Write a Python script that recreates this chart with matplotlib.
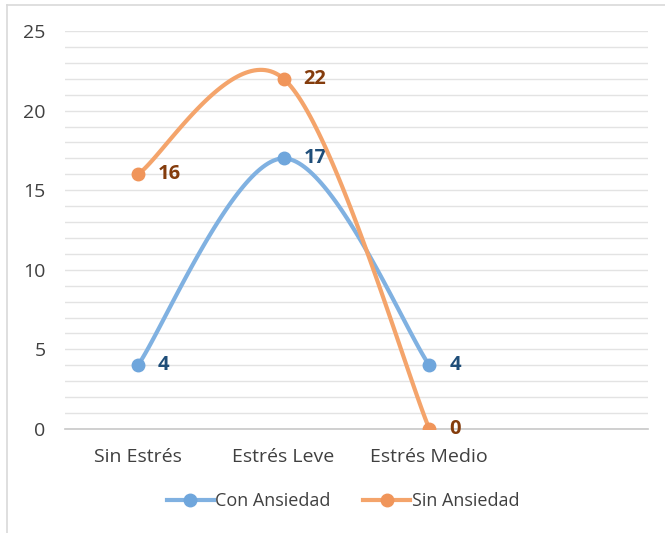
import numpy as np
import matplotlib
matplotlib.use("Agg")
import matplotlib.pyplot as plt
from matplotlib.lines import Line2D

plt.rcParams['font.family'] = ['Open Sans', 'DejaVu Sans']

categories = ["Sin Estrés", "Estrés Leve", "Estrés Medio", ""]
con_ansiedad = [4, 17, 4]
sin_ansiedad = [16, 22, 0]
series_names = ["Con Ansiedad", "Sin Ansiedad"]

BLUE, BLUE_M, BLUE_T = "#80b1e1", "#6fa6dc", "#1f4e79"
ORNG, ORNG_M, ORNG_T = "#f4a46b", "#f0955a", "#843c0c"


def smooth(xs, ys, n=60):
    """Excel-style smoothed line (cubic bezier with 1/6 tangents)."""
    P = np.column_stack([xs, ys]).astype(float)
    out = []
    for i in range(len(P) - 1):
        p0 = P[max(i - 1, 0)]; p1 = P[i]; p2 = P[i + 1]; p3 = P[min(i + 2, len(P) - 1)]
        c1 = p1 + (p2 - p0) / 6.0
        c2 = p2 - (p3 - p1) / 6.0
        t = np.linspace(0, 1, n)[:, None]
        seg = (1 - t)**3 * p1 + 3 * (1 - t)**2 * t * c1 + 3 * (1 - t) * t**2 * c2 + t**3 * p2
        out.append(seg if i == 0 else seg[1:])
    s = np.vstack(out)
    return s[:, 0], s[:, 1]


fig = plt.figure(figsize=(6.65, 5.33), dpi=100)
ax = fig.add_axes([65/665, 1 - 429/533, (648 - 65)/665, (429 - 31)/533])

x = np.arange(len(con_ansiedad))
for vals, lc, mc, tc in [(con_ansiedad, BLUE, BLUE_M, BLUE_T),
                         (sin_ansiedad, ORNG, ORNG_M, ORNG_T)]:
    sx, sy = smooth(x, vals)
    ax.plot(sx, sy, color=lc, lw=3.0, solid_capstyle="round", zorder=3)
    ax.plot(x, vals, "o", color=mc, ms=9, zorder=4)
    for xi, v in zip(x, vals):
        ax.annotate(str(v), (xi, v), xytext=(20, 0), textcoords="offset pixels",
                    ha="left", va="center", fontsize=14.5, fontweight="bold", color=tc)

ax.set_xlim(-0.5, len(categories) - 0.5)
ax.set_ylim(0, 25)
ax.set_yticks(range(0, 26, 5))
ax.set_yticks(range(0, 26, 1), minor=True)
ax.set_xticks(range(len(categories)))
ax.set_xticklabels(categories)
ax.grid(True, which="both", axis="y", color="#e3e3e3", lw=1.0)
ax.set_axisbelow(True)
for s in ["top", "right", "left"]:
    ax.spines[s].set_visible(False)
ax.spines["bottom"].set_color("#c8c8c8")
ax.spines["bottom"].set_linewidth(1.2)
ax.tick_params(axis="both", which="both", length=0, labelsize=14, colors="#404040")
ax.tick_params(axis="y", pad=14)
ax.tick_params(axis="x", pad=14)

handles = [Line2D([], [], color=BLUE, lw=3, marker="o", ms=9, mfc=BLUE_M, mec=BLUE_M),
           Line2D([], [], color=ORNG, lw=3, marker="o", ms=9, mfc=ORNG_M, mec=ORNG_M)]
leg = fig.legend(handles, series_names, loc="center", bbox_to_anchor=(343/665, 1 - 501/533),
                 ncol=2, frameon=False, fontsize=13, handlelength=2.6, handletextpad=0.1,
                 columnspacing=1.8)
for t in leg.get_texts():
    t.set_color("#404040")

# chart frame
fig.add_artist(Line2D([7/665, 7/665], [0, 1 - 5/533], color="#d9d9d9", lw=1.2))
fig.add_artist(Line2D([7/665, 1], [1 - 5/533, 1 - 5/533], color="#d9d9d9", lw=1.2))

fig.savefig("out.png", dpi=100)
